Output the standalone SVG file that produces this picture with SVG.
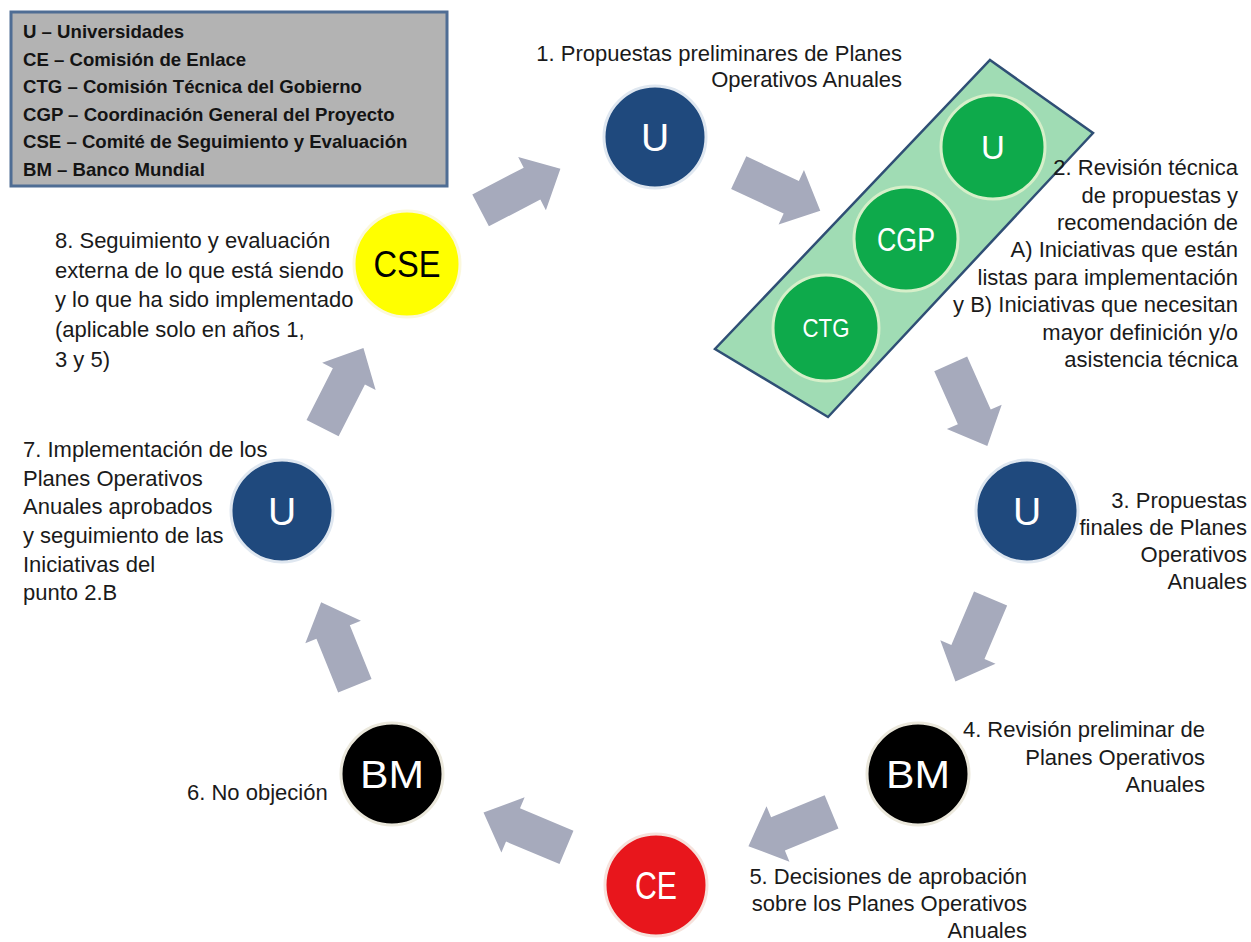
<svg xmlns="http://www.w3.org/2000/svg" xmlns:xlink="http://www.w3.org/1999/xlink" width="1251" height="942" viewBox="0 0 1251 942">
<defs>
<style>
.t{font-family:"Liberation Sans",Arial,sans-serif;font-size:22px;fill:#1a1a1a}
.tr{text-anchor:end}
.lg{font-family:"Liberation Sans",Arial,sans-serif;font-size:18.6px;font-weight:bold;fill:#141414}
.nl{font-family:"Liberation Sans",Arial,sans-serif;text-anchor:middle;fill:#ffffff}
.navy{fill:#1f497d;stroke:#dfe7f0;stroke-width:3}
.blk{fill:#000000;stroke:#ebe8dc;stroke-width:3}
.grn{fill:#0eaa4b;stroke:#d6efc9;stroke-width:3}
.arrow{fill:#a6aabc}
</style>
<polygon id="arr" points="-45,-18 13,-18 13,-30 45,0 13,30 13,18 -45,18"/>
</defs>
<rect width="1251" height="942" fill="#ffffff"/>

<g id="legend">
<rect x="11" y="12" width="436" height="174" fill="#b3b3b3" stroke="#4f6d94" stroke-width="3"/>
<text class="lg" x="23" y="38">U – Universidades</text>
<text class="lg" x="23" y="65.6">CE – Comisión de Enlace</text>
<text class="lg" x="23" y="93.2">CTG – Comisión Técnica del Gobierno</text>
<text class="lg" x="23" y="120.8">CGP – Coordinación General del Proyecto</text>
<text class="lg" x="23" y="148.4">CSE – Comité de Seguimiento y Evaluación</text>
<text class="lg" x="23" y="176">BM – Banco Mundial</text>
</g>

<g id="connectors" class="arrow">
<use xlink:href="#arr" href="#arr" transform="translate(520.5,189.6) rotate(-27.5)"/>
<use xlink:href="#arr" href="#arr" transform="translate(779.5,191.7) rotate(25)"/>
<use xlink:href="#arr" href="#arr" transform="translate(969,405) rotate(66)"/>
<use xlink:href="#arr" href="#arr" transform="translate(973,640) rotate(113)"/>
<use xlink:href="#arr" href="#arr" transform="translate(790,829) rotate(157.5)"/>
<use xlink:href="#arr" href="#arr" transform="translate(525,830) rotate(202.8)"/>
<use xlink:href="#arr" href="#arr" transform="translate(338,644) rotate(248)"/>
<use xlink:href="#arr" href="#arr" transform="translate(343,388) rotate(-63)"/>
</g>

<g id="node1">
<circle class="navy" cx="655" cy="137" r="51"/>
<text class="nl" x="655" y="151" font-size="39">U</text>
<text class="t tr" x="902" y="61" font-size="21">1. Propuestas preliminares de Planes</text>
<text class="t tr" x="902" y="87" font-size="21">Operativos Anuales</text>
</g>

<g id="node2">
<polygon points="990,60 1093,133 828,417 715,349" fill="#a0dcb4" stroke="#2f4f75" stroke-width="2.5"/>
<circle class="grn" cx="993" cy="147" r="52"/>
<text class="nl" x="993" y="159" font-size="33">U</text>
<circle class="grn" cx="906" cy="239" r="52"/>
<text class="nl" x="906" y="251" font-size="33" textLength="58" lengthAdjust="spacingAndGlyphs">CGP</text>
<circle class="grn" cx="826" cy="328" r="53"/>
<text class="nl" x="826" y="337" font-size="25" textLength="47" lengthAdjust="spacingAndGlyphs">CTG</text>
<text class="t tr" x="1238" y="175" font-size="21.5">2. Revisión técnica</text>
<text class="t tr" x="1238" y="202.5" font-size="21.5">de propuestas y</text>
<text class="t tr" x="1238" y="230" font-size="21.5">recomendación de</text>
<text class="t tr" x="1238" y="257" font-size="21.5">A) Iniciativas que están</text>
<text class="t tr" x="1238" y="284.5" font-size="21.5">listas para implementación</text>
<text class="t tr" x="1238" y="312" font-size="21.5">y B) Iniciativas que necesitan</text>
<text class="t tr" x="1238" y="339.5" font-size="21.5">mayor definición y/o</text>
<text class="t tr" x="1238" y="367" font-size="21.5">asistencia técnica</text>
</g>

<g id="node3">
<circle class="navy" cx="1027" cy="511" r="51"/>
<text class="nl" x="1027" y="525" font-size="39">U</text>
<text class="t tr" x="1247" y="508">3. Propuestas</text>
<text class="t tr" x="1247" y="535">finales de Planes</text>
<text class="t tr" x="1247" y="562">Operativos</text>
<text class="t tr" x="1247" y="589">Anuales</text>
</g>

<g id="node4">
<circle class="blk" cx="918" cy="774" r="51"/>
<text class="nl" x="918" y="788" font-size="38" textLength="64" lengthAdjust="spacingAndGlyphs">BM</text>
<text class="t tr" x="1205" y="737">4. Revisión preliminar de</text>
<text class="t tr" x="1205" y="765">Planes Operativos</text>
<text class="t tr" x="1205" y="792">Anuales</text>
</g>

<g id="node5">
<circle cx="656" cy="885" r="51" fill="#e8161c" stroke="#f6e2dc" stroke-width="3"/>
<text class="nl" x="656" y="899" font-size="38" textLength="42" lengthAdjust="spacingAndGlyphs">CE</text>
<text class="t tr" x="1027" y="884">5. Decisiones de aprobación</text>
<text class="t tr" x="1027" y="911">sobre los Planes Operativos</text>
<text class="t tr" x="1027" y="938">Anuales</text>
</g>

<g id="node6">
<circle class="blk" cx="392" cy="774" r="51"/>
<text class="nl" x="392" y="788" font-size="38" textLength="64" lengthAdjust="spacingAndGlyphs">BM</text>
<text class="t" x="187" y="800">6. No objeción</text>
</g>

<g id="node7">
<circle class="navy" cx="282" cy="511" r="51"/>
<text class="nl" x="282" y="525" font-size="39">U</text>
<text class="t" x="23" y="457">7. Implementación de los</text>
<text class="t" x="23" y="485.5">Planes Operativos</text>
<text class="t" x="23" y="514">Anuales aprobados</text>
<text class="t" x="23" y="543">y seguimiento de las</text>
<text class="t" x="23" y="571.5">Iniciativas del</text>
<text class="t" x="23" y="600">punto 2.B</text>
</g>

<g id="node8">
<circle cx="407" cy="264" r="53" fill="#ffff00" stroke="#fbf8dc" stroke-width="3"/>
<text class="nl" x="407" y="277" font-size="36" style="fill:#000000" textLength="67" lengthAdjust="spacingAndGlyphs">CSE</text>
<text class="t" x="55" y="248">8. Seguimiento y evaluación</text>
<text class="t" x="55" y="278">externa de lo que está siendo</text>
<text class="t" x="55" y="307">y lo que ha sido implementado</text>
<text class="t" x="55" y="337">(aplicable solo en años 1,</text>
<text class="t" x="55" y="367">3 y 5)</text>
</g>
</svg>
